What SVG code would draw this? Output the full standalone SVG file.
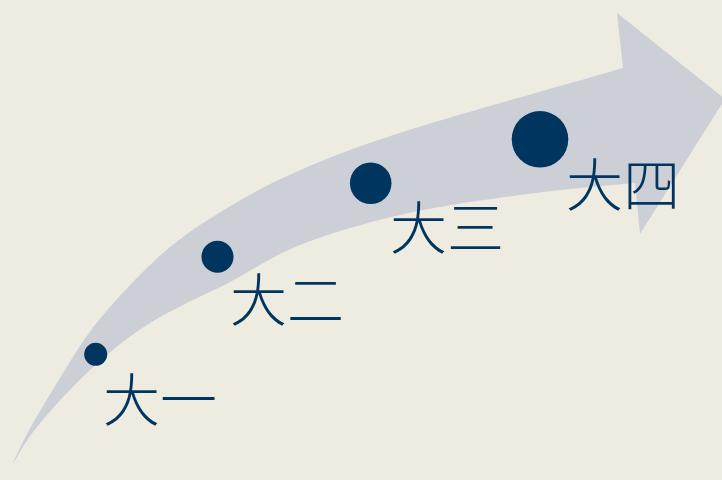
<svg xmlns="http://www.w3.org/2000/svg" width="722" height="480" viewBox="0 0 722 480">
<style>
.lbl{font-family:"Noto Sans CJK JP","Noto Sans CJK SC",sans-serif;font-size:57px;font-weight:300;fill:#00355F}
.dot{fill:#00355F}
</style>
<rect width="722" height="480" fill="#EEEBE1"/>
<g id="arrow">
<path d="M12,465 C25.3,435 40.7,409.3 57,383 C73.3,356.7 86.2,333.3 110,307 C133.8,280.7 160,251.2 200,225 C240,198.8 279.5,176.2 350,150 C420.5,123.8 532,94.7 623,68 L617,13 L725,99 L640,234 L635,183 C596.7,186.3 559.2,189.7 520,195 C480.8,200.3 436.7,206.7 400,215 C363.3,223.3 328.3,233.8 300,245 C271.7,256.2 255,269 230,282 C205,295 173.3,308.3 150,323 C126.7,337.7 108.8,352.7 90,370 C71.2,387.3 50,411.2 37,427 C24,442.8 20.3,452.3 12,465 Z" fill="#CCCFD5"/>
</g>
<g id="node1"><circle class="dot" cx="95.7" cy="354.3" r="11.5"/><text class="lbl" x="103" y="421">大一</text></g>
<g id="node2"><circle class="dot" cx="217.5" cy="256.7" r="16"/><text class="lbl" x="230" y="321">大二</text></g>
<g id="node3"><circle class="dot" cx="370.7" cy="183.3" r="20.8"/><text class="lbl" x="390" y="249">大三</text></g>
<g id="node4"><circle class="dot" cx="540" cy="139.3" r="28.3"/><text class="lbl" x="566" y="206">大四</text></g>
</svg>
